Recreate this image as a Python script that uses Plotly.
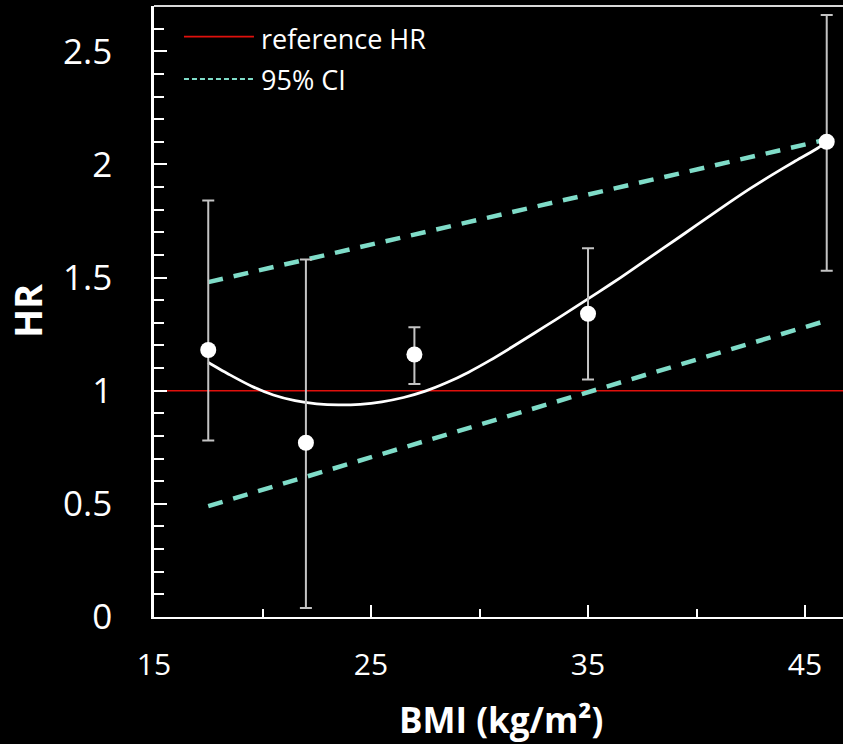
import plotly.graph_objects as go

# ---- data ----
bmi_pts = [17.5, 22, 27, 35, 46]
hr_pts = [1.18, 0.77, 1.16, 1.34, 2.10]
hr_upper = [1.84, 1.58, 1.28, 1.63, 2.66]
hr_lower = [0.78, 0.04, 1.03, 1.05, 1.53]

curve_x = [17.5, 18.5, 19.5, 20.5, 21.5, 22.5, 23.5, 24.5, 25.5, 26.5, 27.5, 28.5,
           29.5, 30.5, 31.5, 32.5, 33.5, 34.5, 35.5, 36.5, 37.5, 38.5, 39.5, 40.5,
           41.5, 42.5, 43.5, 44.5, 45.5, 46]
curve_y = [1.125, 1.070, 1.020, 0.981, 0.956, 0.942, 0.937, 0.940, 0.951, 0.970, 0.998, 1.036,
           1.082, 1.135, 1.193, 1.253, 1.313, 1.375, 1.437, 1.500, 1.566, 1.632, 1.698, 1.765,
           1.831, 1.895, 1.955, 2.012, 2.067, 2.10]

ci_x = [17.5, 46]
ci_upper = [1.48, 2.11]
ci_lower = [0.49, 1.31]

ref_hr = 1.0
x_ticks = [15, 25, 35, 45]
y_ticks = [0, 0.5, 1, 1.5, 2, 2.5]
y_tick_text = ["0", "0.5", "1", "1.5", "2", "2.5"]
legend_labels = ["reference HR", "95% CI"]

FONT = "Open Sans"
CI_COLOR = "#7fdcc8"
RED = "#e0100c"

fig = go.Figure()

for ys in (ci_upper, ci_lower):
    fig.add_trace(go.Scatter(x=ci_x, y=ys, mode="lines",
                             line=dict(color=CI_COLOR, width=4.5, dash="15px,11px"),
                             showlegend=False, hoverinfo="skip"))

fig.add_trace(go.Scatter(x=curve_x, y=curve_y, mode="lines",
                         line=dict(color="white", width=2.8, shape="spline", smoothing=0.6),
                         showlegend=False, hoverinfo="skip"))

fig.add_trace(go.Scatter(
    x=bmi_pts, y=hr_pts, mode="markers",
    marker=dict(color="white", size=16),
    error_y=dict(type="data", symmetric=False,
                 array=[u - v for u, v in zip(hr_upper, hr_pts)],
                 arrayminus=[v - l for v, l in zip(hr_pts, hr_lower)],
                 color="#c4c4c4", thickness=2, width=6),
    showlegend=False))

shapes = [
    dict(type="line", xref="paper", x0=0, x1=1, yref="y", y0=ref_hr, y1=ref_hr,
         line=dict(color=RED, width=1.6), layer="below"),
    dict(type="line", xref="paper", x0=0, x1=1, yref="paper", y0=1, y1=1,
         line=dict(color="#d8d8d8", width=2)),
    # legend samples
    dict(type="line", xref="paper", x0=0.0435, x1=0.1451, yref="paper", y0=0.9498, y1=0.9498,
         line=dict(color=RED, width=1.6)),
    dict(type="line", xref="paper", x0=0.0435, x1=0.1451, yref="paper", y0=0.8805, y1=0.8805,
         line=dict(color=CI_COLOR, width=2, dash="5px,3px")),
]

annotations = [
    dict(text=legend_labels[0], xref="paper", yref="paper", x=0.1524, y=0.947,
         xanchor="left", yanchor="middle", showarrow=False,
         font=dict(family=FONT, size=27, color="white")),
    dict(text=legend_labels[1], xref="paper", yref="paper", x=0.1524, y=0.8805,
         xanchor="left", yanchor="middle", showarrow=False,
         font=dict(family=FONT, size=27, color="white")),
    dict(text="<b>HR</b>", xref="paper", yref="paper", x=-0.1843, y=0.5008,
         xanchor="center", yanchor="middle", textangle=-90, showarrow=False,
         font=dict(family=FONT, size=38, color="white")),
    dict(text="<b>BMI (kg/m²)</b>", xref="paper", yref="paper", x=0.5036, y=-0.168,
         xanchor="center", yanchor="middle", showarrow=False,
         font=dict(family=FONT, size=35, color="white")),
]

fig.update_layout(
    width=843, height=744,
    margin=dict(l=154, r=0, t=6, b=127),
    paper_bgcolor="black", plot_bgcolor="black",
    shapes=shapes, annotations=annotations,
    xaxis=dict(range=[15, 46.75], tickvals=x_ticks, showgrid=False, zeroline=False,
               showline=True, linecolor="white", linewidth=2,
               ticks="inside", ticklen=12, tickwidth=2, tickcolor="white",
               minor=dict(ticks="inside", ticklen=8, tickwidth=2, tickcolor="white",
                          dtick=5, tick0=15),
               tickfont=dict(family=FONT, size=30, color="white"),
               ticklabelstandoff=20),
    yaxis=dict(range=[0, 2.7], tickvals=y_ticks, ticktext=y_tick_text,
               showgrid=False, zeroline=False,
               showline=True, linecolor="white", linewidth=2.5,
               ticks="inside", ticklen=13, tickwidth=2, tickcolor="white",
               minor=dict(ticks="inside", ticklen=10, tickwidth=2, tickcolor="white",
                          dtick=0.1, tick0=0),
               tickfont=dict(family=FONT, size=35, color="white"),
               ticklabelstandoff=32),
)

fig.write_html("out.html", config={"displayModeBar": False},
               post_script="document.body.style.margin='0';document.body.style.overflow='hidden';document.body.style.background='black';")
